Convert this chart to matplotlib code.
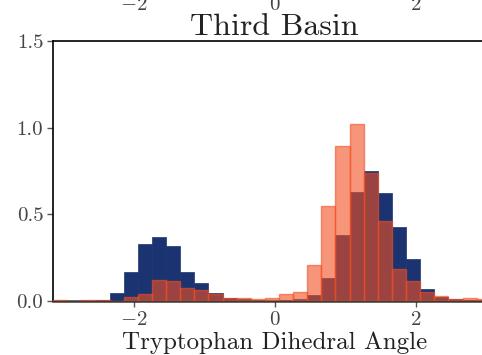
import numpy as np
import matplotlib
matplotlib.use("Agg")
import matplotlib.pyplot as plt
import matplotlib.transforms as mtransforms

plt.rcParams['font.family'] = ['cmr10', 'DejaVu Serif']
plt.rcParams['mathtext.fontset'] = 'cm'
plt.rcParams['axes.formatter.use_mathtext'] = True

# ---- data ----
bin_start = -3.14
bin_width = 0.2
navy_vals = [0.002, 0.001, 0.002, 0.003, 0.047, 0.167, 0.329, 0.369, 0.317, 0.167,
             0.104, 0.046, 0.016, 0.012, 0.006, 0.002, 0.006, 0.012, 0.035, 0.133,
             0.381, 0.629, 0.750, 0.623, 0.427, 0.242, 0.069, 0.023, 0.010, 0.005,
             0.003, 0.002]
salmon_vals = [0.004, 0.001, 0.004, 0.005, 0.002, 0.023, 0.040, 0.121, 0.115, 0.075,
               0.063, 0.040, 0.017, 0.017, 0.012, 0.017, 0.040, 0.052, 0.208, 0.548,
               0.894, 1.021, 0.739, 0.462, 0.185, 0.115, 0.052, 0.029, 0.012, 0.017,
               0.012, 0.010]
xticks = [-2, 0, 2]
yticks = [0.0, 0.5, 1.0, 1.5]
title = "Third Basin"
xlabel = "Tryptophan Dihedral Angle"

lefts = bin_start + bin_width * np.arange(len(navy_vals))

fig = plt.figure(figsize=(4.82, 3.55), dpi=100)
ax = fig.add_axes([53 / 482, 54 / 355, 443.5 / 482, 260 / 355])

ax.bar(lefts, navy_vals, width=bin_width, align='edge', color='#1b3370',
       edgecolor='#1b3370', linewidth=0.5, zorder=2)
ax.bar(lefts, salmon_vals, width=bin_width, align='edge', color='#f24f21',
       edgecolor='#f24f21', alpha=0.6, linewidth=1.0, zorder=3)

ax.set_xlim(-np.pi, np.pi)
ax.set_ylim(0, 1.5)
ax.set_xticks(xticks)
ax.set_yticks(yticks)
ax.set_yticklabels(["0.0", "0.5", "1.0", "1.5"])

for s in ['left', 'top', 'right']:
    ax.spines[s].set_color('black')
    ax.spines[s].set_linewidth(1.2)
ax.spines['bottom'].set_color('#3a3a3a')
ax.spines['bottom'].set_linewidth(1.8)

ax.tick_params(axis='both', direction='out', length=4, width=1, color='#555555',
               labelsize=15, labelcolor='#444444', pad=3)

ax.set_title(title, fontsize=23, color='#222222', pad=2)
ax.set_xlabel(xlabel, fontsize=18, color='#222222', labelpad=2)

# clipped tick labels of the panel above
trans = mtransforms.blended_transform_factory(ax.transData, fig.transFigure)
for v in xticks:
    lab = r"$-2$" if v < 0 else str(v)
    fig.text(v, 1 - 10 / 355, lab, transform=trans, ha='center', va='baseline',
             fontsize=15, color='#444444')

fig.savefig("out.png", dpi=100)
